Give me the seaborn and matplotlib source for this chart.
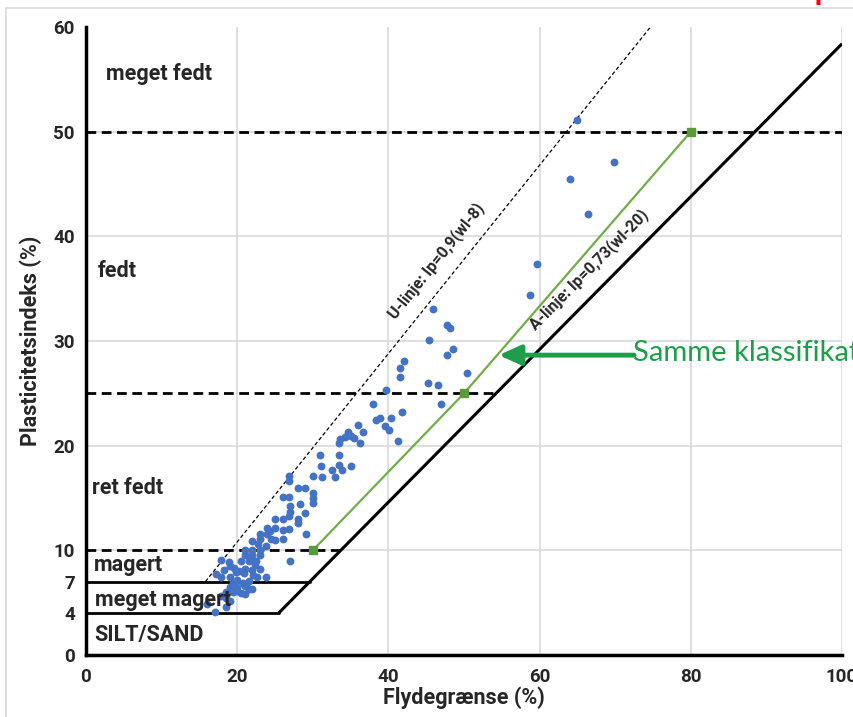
import numpy as np
import pandas as pd
import matplotlib
matplotlib.use("Agg")
import matplotlib.pyplot as plt
import seaborn as sns
from matplotlib.lines import Line2D

# ---------------- data ----------------
wl = [65.0, 69.8, 64.0, 66.4, 59.6, 58.7, 45.9, 47.7, 48.2, 45.4, 48.5, 47.7,
      42.0, 41.6, 41.6, 50.4, 45.2, 46.6, 39.7, 47.0, 38.0, 41.8, 38.3, 38.9,
      40.4, 39.6, 40.1, 41.3, 36.0, 36.6, 34.6, 34.2, 35.4, 36.2, 33.6, 33.5,
      35.0, 31.0, 33.5, 31.1, 33.4, 35.0, 32.5, 33.9, 30.0, 31.2, 33.0, 26.9,
      26.9, 28.0, 29.0, 30.0, 30.0, 30.0, 26.0, 26.9, 28.3, 27.0, 27.0, 29.0,
      25.0, 26.1, 26.9, 28.0, 28.0, 24.0, 25.0, 26.1, 26.9, 23.0, 24.0, 29.1,
      24.5, 25.0, 26.0, 23.0, 22.0, 23.8, 22.0, 21.0, 23.0, 21.0, 22.0, 23.0,
      20.5, 21.5, 22.5, 27.0, 17.9, 18.9, 19.0, 19.6, 21.0, 22.0, 23.0, 22.1,
      23.8, 22.6, 17.2, 17.9, 19.0, 20.0, 19.4, 20.8, 21.5, 19.0, 20.0, 21.0,
      21.5, 18.5, 19.5, 20.5, 22.0, 21.0, 20.0, 18.5, 19.0, 17.9, 18.5, 16.0,
      17.0, 20.3, 21.7, 22.4, 19.8, 20.9, 18.2, 21.2, 22.8, 24.3]
ip = [51.1, 47.1, 45.5, 42.1, 37.4, 34.4, 33.1, 31.5, 31.2, 30.1, 29.2, 28.7,
      28.1, 27.4, 26.6, 26.9, 26.0, 25.8, 25.3, 24.0, 24.0, 23.2, 22.5, 22.6,
      22.6, 21.9, 21.5, 20.4, 22.0, 21.3, 21.3, 20.8, 20.7, 20.3, 20.6, 20.3,
      20.9, 19.1, 19.1, 18.1, 18.2, 18.1, 17.7, 17.7, 17.1, 17.0, 17.0, 17.1,
      16.6, 16.0, 16.0, 15.5, 15.0, 14.5, 15.1, 15.1, 14.4, 14.2, 13.7, 13.6,
      13.0, 13.0, 13.3, 13.0, 12.6, 12.1, 12.1, 11.9, 12.0, 11.6, 11.6, 11.6,
      11.1, 11.0, 11.1, 11.1, 10.9, 10.4, 10.0, 10.0, 10.0, 9.6, 9.6, 9.6,
      9.0, 9.0, 9.0, 9.0, 9.1, 8.9, 8.5, 8.3, 8.2, 8.1, 8.2, 7.6,
      7.5, 7.5, 7.7, 7.5, 7.5, 7.2, 6.9, 6.9, 7.1, 6.5, 6.5, 6.6,
      6.3, 6.0, 6.0, 5.9, 6.3, 5.8, 6.1, 5.4, 5.2, 5.6, 4.6, 4.9,
      4.1, 8.0, 9.3, 8.6, 7.9, 7.8, 8.1, 6.8, 10.6, 11.8]

green_x = [30, 50, 80]
green_y = [10, 25, 50]

a_x = [25.48, 100]          # A-line: Ip = 0.73(wl-20)
u_x = [15.8, 74.7]          # U-line: Ip = 0.9(wl-8)

dash_levels = [10, 25, 50]
dash_ends = [33.7, 54.2, 100]
solid_levels = [4, 7]
solid_ends = [25.48, 29.6]

xticks = [0, 20, 40, 60, 80, 100]
yticks = [0, 4, 7, 10, 20, 30, 40, 50, 60]

zones = ["meget fedt", "fedt", "ret fedt", "magert", "meget magert", "SILT/SAND"]
zone_x = [2.6, 1.5, 0.8, 1.1, 1.2, 1.1]
zone_y = [55.5, 36.7, 16.0, 8.6, 5.3, 1.9]

# ---------------- style ----------------
sns.set_theme(style="white")
plt.rcParams["font.family"] = ["Roboto", "DejaVu Sans"]

fig = plt.figure(figsize=(8.54, 7.17), dpi=100)
ax = fig.add_axes([86/854, 1-655/717, 756/854, 628/717])

df = pd.DataFrame({"wl": wl, "ip": ip})

# grid
for gx in [20, 40, 60, 80, 100]:
    ax.axvline(gx, color="#d9d9d9", lw=1.2, zorder=0)
for gy in [10, 20, 30, 40, 50]:
    ax.axhline(gy, color="#d9d9d9", lw=1.2, zorder=0)

# A-line
ax.plot(a_x, [0.73*(x-20) for x in a_x], color="black", lw=2.2, zorder=3,
        solid_capstyle="butt")
# U-line
ax.plot(u_x, [0.9*(x-8) for x in u_x], color="black", lw=0.9, zorder=3,
        linestyle=(0, (3, 2)))
# horizontal boundaries
for lev, end in zip(dash_levels, dash_ends):
    ax.plot([0, end], [lev, lev], color="black", lw=2, linestyle=(0, (3.5, 2)), zorder=3)
for lev, end in zip(solid_levels, solid_ends):
    ax.plot([0, end], [lev, lev], color="black", lw=2, zorder=3)

# green classification line
ax.plot(green_x, green_y, color="#70AD47", lw=1.6, marker="s", ms=6,
        markerfacecolor="#5B9A3A", markeredgecolor="#5B9A3A", zorder=4)

# scatter
sns.scatterplot(data=df, x="wl", y="ip", ax=ax, color="#4472C4", s=32,
                linewidth=0, zorder=5, legend=False)

ax.set_xlim(0, 100)
ax.set_ylim(0, 60)
ax.set_xticks(xticks)
ax.set_yticks(yticks)
ax.set_xticklabels([str(t) for t in xticks], fontweight="bold", fontsize=13.5)
ax.set_yticklabels([str(t) for t in yticks], fontweight="bold", fontsize=13.5)
ax.tick_params(axis="x", length=0, pad=9)
ax.tick_params(axis="y", length=0, pad=8)

ax.set_xlabel("Flydegrænse (%)", fontweight="bold", fontsize=15.5, labelpad=1)
ax.set_ylabel("Plasticitetsindeks (%)", fontweight="bold", fontsize=15.5, labelpad=8)

for side in ["top", "right"]:
    ax.spines[side].set_visible(False)
for side in ["left", "bottom"]:
    ax.spines[side].set_color("black")
    ax.spines[side].set_linewidth(2.5)

# zone labels
for t, x, y in zip(zones, zone_x, zone_y):
    ax.text(x, y, t, fontsize=15.5, fontweight="bold", va="center", ha="left", zorder=6)

# line labels
ax.text(46.3, 37.7, "U-linje: Ip=0,9(wl-8)", fontsize=11.5, fontweight="bold",
        ha="center", va="center", rotation=np.degrees(np.arctan(0.9)),
        transform_rotates_text=True, rotation_mode="anchor", zorder=6)
ax.text(66.5, 36.8, "A-linje: Ip=0,73(wl-20)", fontsize=11.5, fontweight="bold",
        ha="center", va="center", rotation=np.degrees(np.arctan(0.73)),
        transform_rotates_text=True, rotation_mode="anchor", zorder=6)

# arrow + annotation
ax.annotate("", xy=(54.6, 28.65), xytext=(72.5, 28.65),
            arrowprops=dict(arrowstyle="-|>,head_width=0.5,head_length=1.1",
                            color="#1E9E4A", lw=3.5, shrinkA=0, shrinkB=0),
            zorder=7, annotation_clip=False)
ax.text(72.3, 28.9, "Samme klassifikat", color="#1E9E4A", fontsize=21,
        family=["Lato", "DejaVu Sans"],
        va="center", ha="left", clip_on=False, zorder=7)

# outer frame of the slide-picture
fig.add_artist(Line2D([6/854, 6/854], [0, 1-8/717], transform=fig.transFigure,
                      color="#d9d9d9", lw=1.2))
fig.add_artist(Line2D([6/854, 1], [1-8/717, 1-8/717], transform=fig.transFigure,
                      color="#d9d9d9", lw=1.2))
# fragment of red slide text just above the picture (only its descender shows)
fig.text(822/854, 1+1/717, "p", color="red", fontsize=20, fontweight="bold",
         ha="center", va="baseline")

fig.savefig("out.png", dpi=100)
